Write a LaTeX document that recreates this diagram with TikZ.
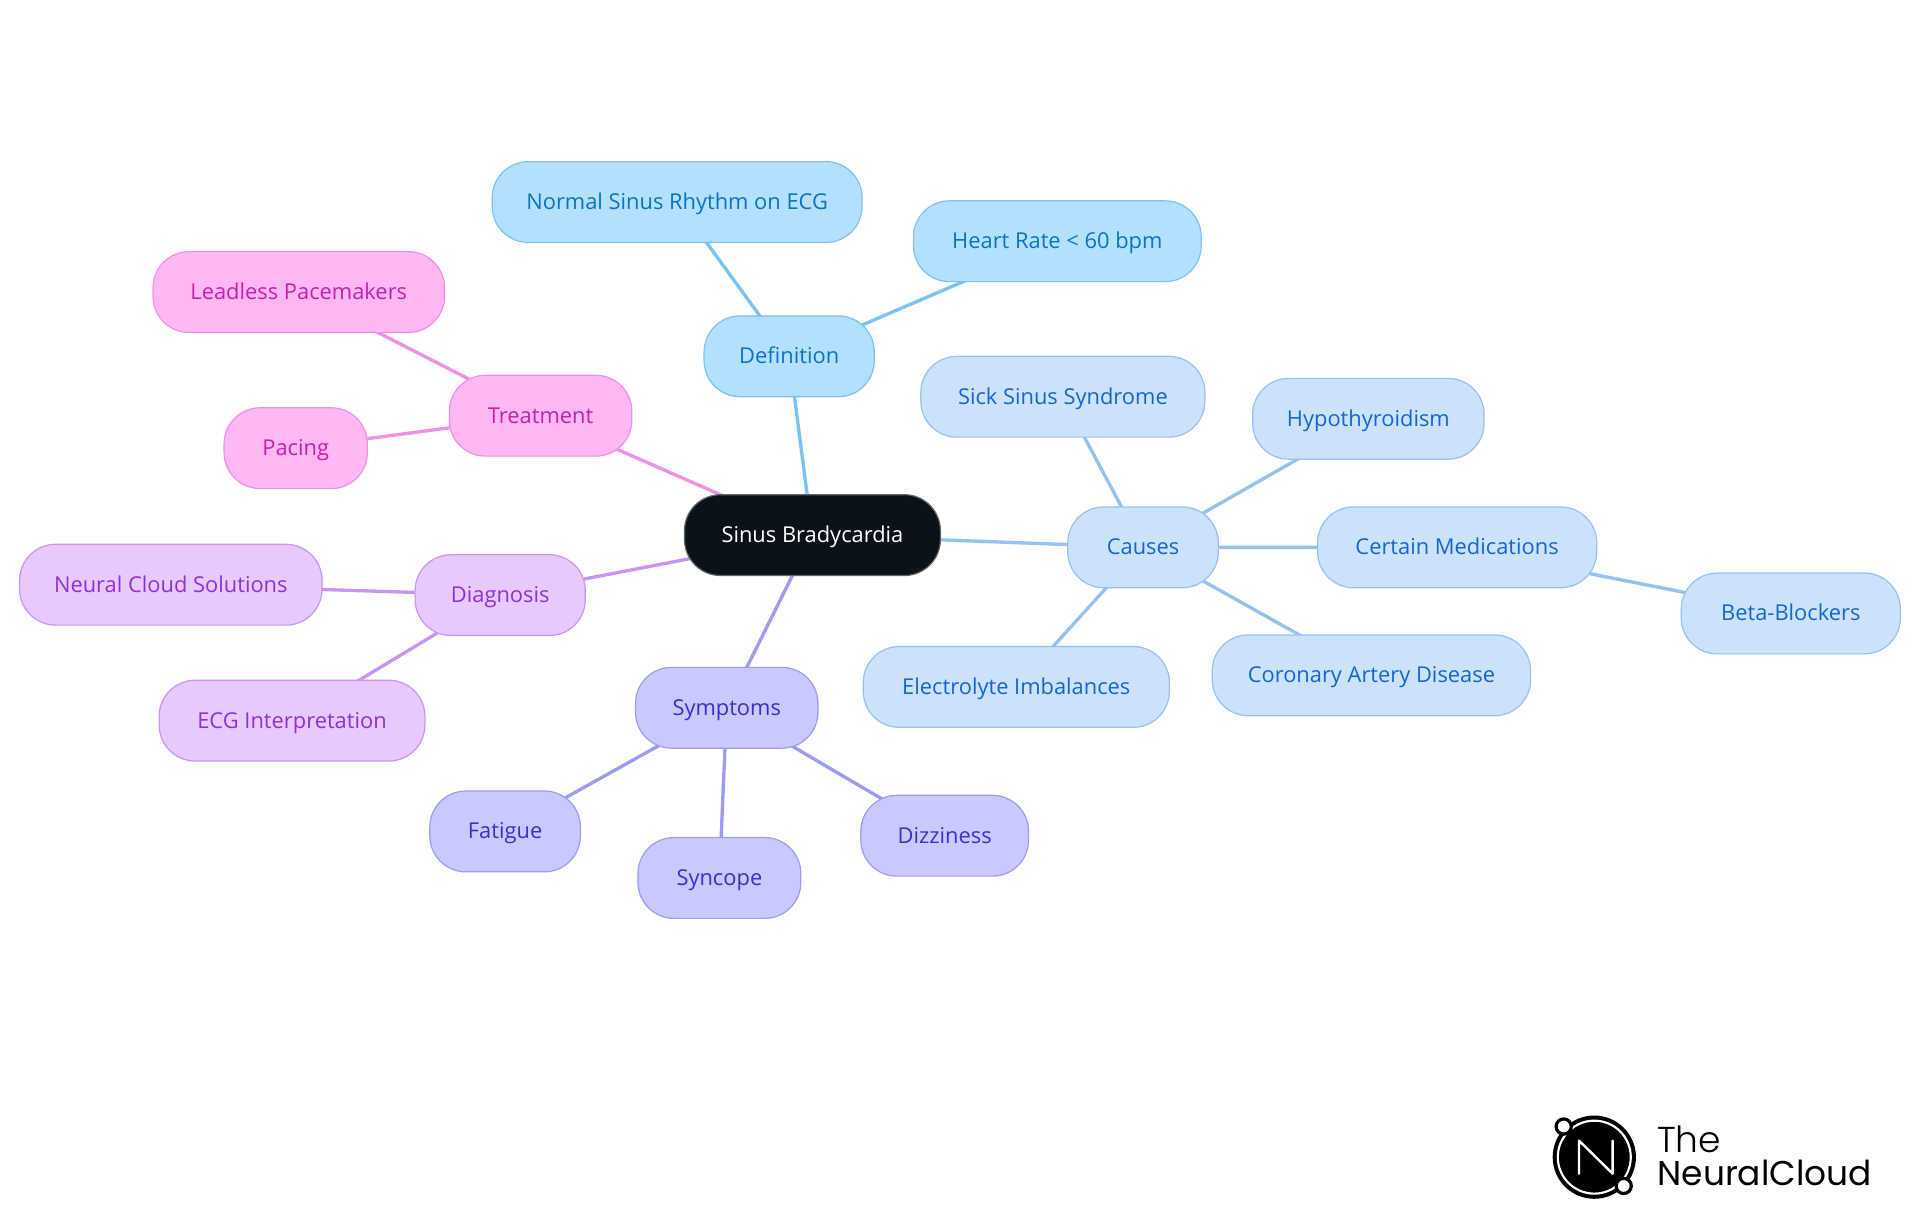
\documentclass[tikz,border=0pt]{standalone}
\usepackage{fontspec}
\setmainfont{Open Sans}
\newfontfamily\logofont{Poppins Light}
\newfontfamily\logofontb{Poppins}
\usetikzlibrary{backgrounds}
\definecolor{defF}{HTML}{B3E0FF}\definecolor{defD}{HTML}{7CC3F3}\definecolor{defT}{HTML}{0B72C4}
\definecolor{cauF}{HTML}{CCE2FC}\definecolor{cauD}{HTML}{96C2F0}\definecolor{cauT}{HTML}{1565D0}
\definecolor{symF}{HTML}{C9C9FF}\definecolor{symD}{HTML}{9C9CF0}\definecolor{symT}{HTML}{3A2FD0}
\definecolor{diaF}{HTML}{E8C9FF}\definecolor{diaD}{HTML}{C995F0}\definecolor{diaT}{HTML}{9030D8}
\definecolor{treF}{HTML}{FFB8F4}\definecolor{treD}{HTML}{F090E4}\definecolor{treT}{HTML}{C820B0}
\definecolor{rootF}{HTML}{0B1219}
\tikzset{
 mm/.style={rectangle,rounded corners=27pt,minimum height=60.6pt,inner sep=0pt,line width=0.9pt,font=\fontsize{16.4}{20}\selectfont,text height=14.8pt,text depth=3.6pt,minimum width=#1*0.91837pt},
 defn/.style={mm=#1,fill=defF,draw=defD,text=defT},
 caus/.style={mm=#1,fill=cauF,draw=cauD,text=cauT},
 symp/.style={mm=#1,fill=symF,draw=symD,text=symT},
 diag/.style={mm=#1,fill=diaF,draw=diaD,text=diaT},
 trea/.style={mm=#1,fill=treF,draw=treD,text=treT},
 rootn/.style={mm=#1,fill=rootF,draw=black!60,text=white},
 edge/.style={line width=2.5pt},
}
\begin{document}
\begin{tikzpicture}[x=0.91837pt,y=-0.91837pt]
\useasboundingbox (0,0) rectangle (1568,992.2);
\node[rootn=209] (root) at (663.5,437) {Sinus Bradycardia};
\node[defn=139] (def) at (644.5,291) {Definition};
\node[defn=302] (normal) at (553,165) {Normal Sinus Rhythm on ECG};
\node[defn=235] (heart) at (863.5,197) {Heart Rate < 60 bpm};
\node[caus=123] (causes) at (933.5,447) {Causes};
\node[caus=232] (sick) at (868,324) {Sick Sinus Syndrome};
\node[caus=189] (hypo) at (1117.5,342) {Hypothyroidism};
\node[caus=228] (cert) at (1190,447) {Certain Medications};
\node[caus=179] (beta) at (1462.5,501) {Beta-Blockers};
\node[caus=260] (coro) at (1120,551.5) {Coronary Artery Disease};
\node[caus=250] (elec) at (830,561) {Electrolyte Imbalances};
\node[symp=149] (symp) at (593.5,578) {Symptoms};
\node[symp=123] (fati) at (412.5,679) {Fatigue};
\node[symp=133] (sync) at (587.5,717) {Syncope};
\node[symp=137] (dizz) at (771.5,682.5) {Dizziness};
\node[diag=139] (diag) at (408.5,486) {Diagnosis};
\node[diag=247] (neur) at (139.5,477.5) {Neural Cloud Solutions};
\node[diag=217] (ecg) at (238.5,588.5) {ECG Interpretation};
\node[trea=149] (trea) at (441.5,339.5) {Treatment};
\node[trea=238] (lead) at (244,238.5) {Leadless Pacemakers};
\node[trea=117] (paci) at (241.5,366) {Pacing};
\begin{pgfonlayer}{background}
\draw[edge,defD] (root.center)--(def.center) (def.center)--(normal.center) (def.center)--(heart.center);
\draw[edge,cauD] (root.center)--(causes.center) (causes.center)--(sick.center) (causes.center)--(hypo.center) (causes.center)--(cert.center) (causes.center)--(coro.center) (causes.center)--(elec.center) (cert.center)--(beta.center);
\draw[edge,symD] (root.center)--(symp.center) (symp.center)--(fati.center) (symp.center)--(sync.center) (symp.center)--(dizz.center);
\draw[edge,diaD] (root.center)--(diag.center) (diag.center)--(neur.center) (diag.center)--(ecg.center);
\draw[edge,treD] (root.center)--(trea.center) (trea.center)--(lead.center) (trea.center)--(paci.center);
\end{pgfonlayer}
% logo
\fill[black] (1302,945) circle (34);
\draw[white,line width=1.6pt] (1302,945) circle (29.8);
\draw[white,line width=1.8pt,line join=round,line cap=round] (1289.5,958.5) -- (1289.5,931.5) -- (1317,958.5) -- (1317,931.5);
\draw[black,fill=white,line width=2.4pt] (1277,920) circle (6.2);
\draw[black,fill=white,line width=2.4pt] (1326,968.5) circle (6.2);
\node[anchor=base west,inner sep=0pt,font=\logofont\fontsize{27}{30}\selectfont] (the) at (1353,941) {The};
\node[anchor=base west,inner sep=0pt,font=\logofontb\fontsize{25.8}{30}\selectfont] (nc) at (1353.5,968) {NeuralCloud};
\end{tikzpicture}
\end{document}
